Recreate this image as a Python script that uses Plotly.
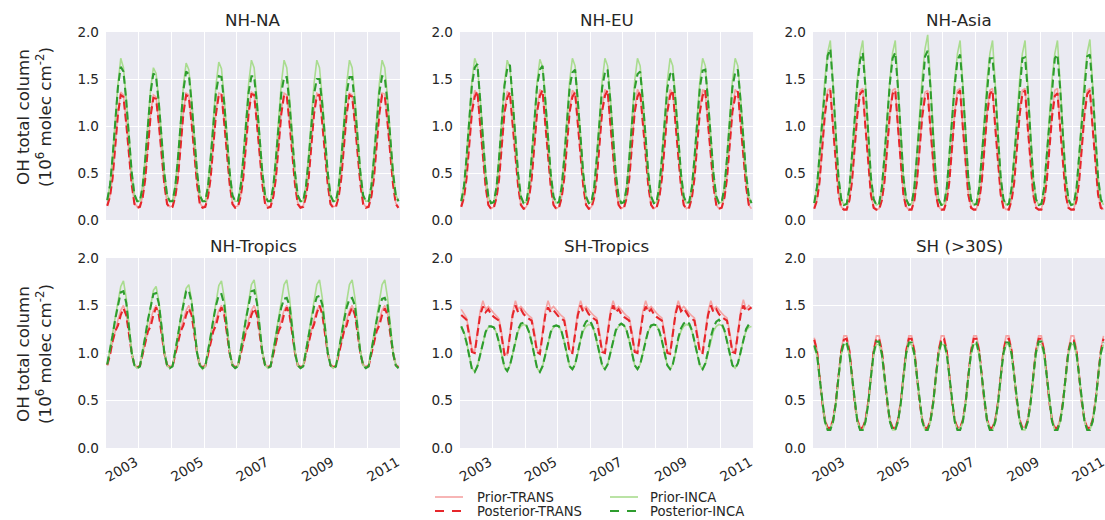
import pandas as pd
import plotly.graph_objects as go

# ---------------- data (monthly, Jan 2002 - Dec 2010) ----------------
months = pd.date_range("2002-01-01", periods=108, freq="MS") + pd.Timedelta(days=14)

regions = ["NH-NA", "NH-EU", "NH-Asia", "NH-Tropics", "SH-Tropics", "SH (>30S)"]
series_names = ["Prior-TRANS", "Posterior-TRANS", "Prior-INCA", "Posterior-INCA"]
year_ticks = ["2003-01-01", "2005-01-01", "2007-01-01", "2009-01-01", "2011-01-01"]
year_labels = ["2003", "2005", "2007", "2009", "2011"]
y_ticks = [0.0, 0.5, 1.0, 1.5, 2.0]
y_labels = ["0.0", "0.5", "1.0", "1.5", "2.0"]

# NH-NA
na_prior_trans = [
    .16, .26, .46, .83, 1.16, 1.36, 1.33, 1.05, .70, .40, .18, .14,
    .15, .25, .45, .82, 1.14, 1.33, 1.31, 1.04, .69, .39, .18, .14,
    .15, .26, .46, .83, 1.16, 1.35, 1.33, 1.05, .70, .40, .18, .14,
    .15, .26, .46, .83, 1.16, 1.35, 1.34, 1.05, .70, .40, .18, .14,
    .15, .26, .46, .84, 1.17, 1.36, 1.34, 1.05, .70, .40, .18, .14,
    .15, .26, .46, .83, 1.16, 1.35, 1.33, 1.05, .70, .40, .18, .14,
    .15, .26, .46, .83, 1.16, 1.35, 1.33, 1.05, .70, .40, .18, .14,
    .15, .26, .46, .83, 1.16, 1.35, 1.33, 1.05, .70, .40, .18, .14,
    .15, .26, .46, .83, 1.16, 1.35, 1.34, 1.05, .70, .40, .18, .14]
na_post_trans = [
    .15, .25, .44, .80, 1.13, 1.33, 1.31, 1.03, .68, .38, .17, .13,
    .14, .24, .43, .79, 1.11, 1.30, 1.29, 1.02, .67, .38, .17, .13,
    .14, .25, .44, .80, 1.13, 1.33, 1.31, 1.03, .68, .38, .17, .13,
    .14, .25, .44, .80, 1.13, 1.33, 1.34, 1.03, .68, .38, .17, .13,
    .14, .25, .44, .80, 1.14, 1.34, 1.33, 1.03, .68, .38, .17, .13,
    .14, .25, .44, .80, 1.13, 1.33, 1.32, 1.03, .68, .38, .17, .13,
    .14, .25, .44, .80, 1.13, 1.32, 1.33, 1.03, .68, .38, .17, .13,
    .14, .25, .44, .80, 1.13, 1.33, 1.31, 1.03, .68, .38, .17, .13,
    .14, .25, .44, .80, 1.13, 1.33, 1.32, 1.03, .68, .38, .17, .13]
na_prior_inca = [
    .21, .38, .68, 1.08, 1.45, 1.72, 1.62, 1.30, .92, .52, .27, .20,
    .20, .37, .66, 1.05, 1.40, 1.62, 1.56, 1.27, .90, .51, .27, .20,
    .20, .37, .67, 1.07, 1.43, 1.67, 1.60, 1.29, .91, .52, .27, .20,
    .20, .38, .68, 1.07, 1.44, 1.68, 1.61, 1.29, .91, .52, .27, .20,
    .20, .38, .68, 1.08, 1.45, 1.70, 1.62, 1.30, .92, .52, .27, .20,
    .20, .38, .68, 1.08, 1.45, 1.70, 1.62, 1.30, .92, .52, .27, .20,
    .20, .38, .68, 1.08, 1.45, 1.70, 1.62, 1.30, .92, .52, .27, .20,
    .20, .38, .68, 1.08, 1.45, 1.70, 1.62, 1.30, .92, .52, .27, .20,
    .20, .38, .68, 1.08, 1.45, 1.70, 1.62, 1.30, .92, .52, .27, .20]
na_post_inca = [
    .21, .37, .66, 1.05, 1.42, 1.63, 1.58, 1.27, .90, .51, .27, .20,
    .20, .36, .64, 1.02, 1.36, 1.56, 1.52, 1.24, .88, .50, .26, .20,
    .20, .36, .65, 1.03, 1.38, 1.58, 1.55, 1.25, .89, .51, .26, .20,
    .20, .36, .64, 1.02, 1.36, 1.53, 1.52, 1.24, .88, .50, .26, .20,
    .20, .36, .64, 1.02, 1.36, 1.53, 1.53, 1.24, .88, .50, .26, .20,
    .20, .36, .64, 1.02, 1.35, 1.52, 1.52, 1.23, .88, .50, .26, .20,
    .20, .36, .64, 1.01, 1.34, 1.50, 1.50, 1.23, .88, .50, .26, .20,
    .20, .36, .64, 1.02, 1.35, 1.52, 1.52, 1.23, .88, .50, .26, .20,
    .20, .36, .64, 1.02, 1.36, 1.53, 1.52, 1.24, .88, .50, .26, .20]

# NH-EU
eu_prior_trans = [
    .15, .25, .46, .84, 1.18, 1.38, 1.34, 1.04, .68, .37, .16, .12,
    .14, .25, .45, .83, 1.17, 1.37, 1.33, 1.03, .67, .37, .16, .12,
    .14, .25, .46, .84, 1.18, 1.39, 1.34, 1.04, .68, .37, .16, .12,
    .14, .25, .46, .84, 1.18, 1.38, 1.35, 1.04, .68, .37, .16, .12,
    .14, .25, .46, .84, 1.19, 1.39, 1.35, 1.04, .68, .37, .16, .12,
    .14, .25, .46, .84, 1.18, 1.39, 1.34, 1.04, .68, .37, .16, .12,
    .14, .25, .46, .84, 1.18, 1.39, 1.35, 1.04, .68, .37, .16, .12,
    .14, .25, .46, .84, 1.18, 1.39, 1.34, 1.04, .68, .37, .16, .12,
    .14, .25, .46, .84, 1.18, 1.39, 1.35, 1.04, .68, .37, .16, .12]
eu_post_trans = [
    .14, .24, .44, .81, 1.15, 1.31, 1.37, 1.02, .66, .36, .16, .12,
    .13, .24, .43, .80, 1.14, 1.30, 1.36, 1.01, .65, .36, .16, .12,
    .13, .24, .44, .81, 1.15, 1.32, 1.38, 1.02, .66, .36, .16, .12,
    .13, .24, .44, .81, 1.15, 1.31, 1.36, 1.02, .66, .36, .16, .12,
    .13, .24, .44, .81, 1.16, 1.32, 1.38, 1.02, .66, .36, .16, .12,
    .13, .24, .44, .81, 1.15, 1.31, 1.37, 1.02, .66, .36, .16, .12,
    .13, .24, .44, .81, 1.15, 1.32, 1.38, 1.02, .66, .36, .16, .12,
    .13, .24, .44, .81, 1.15, 1.32, 1.38, 1.02, .66, .36, .16, .12,
    .13, .24, .44, .81, 1.15, 1.31, 1.37, 1.02, .66, .36, .16, .12]
eu_prior_inca = [
    .20, .37, .68, 1.10, 1.48, 1.72, 1.64, 1.30, .90, .50, .25, .18,
    .19, .36, .67, 1.09, 1.46, 1.70, 1.62, 1.29, .89, .50, .25, .18,
    .19, .37, .68, 1.10, 1.47, 1.71, 1.63, 1.30, .90, .50, .25, .18,
    .19, .37, .68, 1.10, 1.48, 1.72, 1.64, 1.30, .90, .50, .25, .18,
    .19, .37, .68, 1.10, 1.48, 1.72, 1.64, 1.30, .90, .50, .25, .18,
    .19, .37, .68, 1.10, 1.48, 1.72, 1.64, 1.30, .90, .50, .25, .18,
    .19, .37, .68, 1.10, 1.48, 1.72, 1.64, 1.30, .90, .50, .25, .18,
    .19, .37, .68, 1.10, 1.48, 1.72, 1.64, 1.30, .90, .50, .25, .18,
    .19, .37, .68, 1.10, 1.48, 1.72, 1.64, 1.30, .90, .50, .25, .18]
eu_post_inca = [
    .20, .36, .66, 1.07, 1.44, 1.62, 1.66, 1.28, .88, .49, .25, .18,
    .19, .35, .65, 1.06, 1.43, 1.61, 1.65, 1.27, .87, .49, .25, .18,
    .19, .36, .66, 1.06, 1.43, 1.60, 1.64, 1.27, .88, .49, .25, .18,
    .19, .35, .65, 1.05, 1.41, 1.57, 1.60, 1.26, .87, .49, .25, .18,
    .19, .35, .65, 1.05, 1.41, 1.57, 1.60, 1.26, .87, .49, .25, .18,
    .19, .35, .65, 1.05, 1.40, 1.55, 1.58, 1.26, .87, .49, .25, .18,
    .19, .35, .65, 1.05, 1.40, 1.55, 1.58, 1.26, .87, .49, .25, .18,
    .19, .35, .65, 1.05, 1.41, 1.59, 1.60, 1.26, .87, .49, .25, .18,
    .19, .35, .65, 1.05, 1.41, 1.57, 1.60, 1.26, .87, .49, .25, .18]

# NH-Asia
as_prior_trans = [
    .13, .22, .42, .80, 1.15, 1.38, 1.40, 1.00, .60, .28, .14, .11,
    .12, .22, .42, .80, 1.15, 1.38, 1.40, 1.00, .60, .28, .14, .11,
    .12, .22, .42, .80, 1.15, 1.38, 1.40, 1.00, .60, .28, .14, .11,
    .12, .22, .42, .80, 1.14, 1.36, 1.38, 1.00, .60, .28, .14, .11,
    .12, .22, .42, .80, 1.15, 1.38, 1.40, 1.00, .60, .28, .14, .11,
    .12, .22, .42, .80, 1.15, 1.38, 1.40, 1.00, .60, .28, .14, .11,
    .12, .22, .42, .80, 1.15, 1.38, 1.40, 1.00, .60, .28, .14, .11,
    .12, .22, .42, .80, 1.15, 1.38, 1.40, 1.00, .60, .28, .14, .11,
    .12, .22, .42, .80, 1.15, 1.38, 1.40, 1.00, .60, .28, .14, .11]
as_post_trans = [
    .12, .21, .40, .78, 1.12, 1.34, 1.38, .98, .58, .27, .13, .11,
    .11, .21, .40, .78, 1.12, 1.34, 1.38, .98, .58, .27, .13, .11,
    .11, .21, .40, .78, 1.12, 1.34, 1.38, .98, .58, .27, .13, .11,
    .11, .21, .40, .77, 1.10, 1.31, 1.35, .97, .58, .27, .13, .11,
    .11, .21, .40, .78, 1.12, 1.34, 1.38, .98, .58, .27, .13, .11,
    .11, .21, .40, .78, 1.12, 1.34, 1.38, .98, .58, .27, .13, .11,
    .11, .21, .40, .78, 1.12, 1.34, 1.38, .98, .58, .27, .13, .11,
    .11, .21, .40, .77, 1.10, 1.32, 1.35, .97, .58, .27, .13, .11,
    .11, .21, .40, .78, 1.12, 1.34, 1.38, .98, .58, .27, .13, .11]
as_prior_inca = [
    .18, .36, .70, 1.10, 1.50, 1.78, 1.91, 1.45, .92, .46, .22, .16,
    .17, .35, .69, 1.09, 1.49, 1.77, 1.91, 1.44, .92, .46, .22, .16,
    .17, .35, .69, 1.09, 1.49, 1.78, 1.91, 1.44, .92, .46, .22, .16,
    .17, .36, .70, 1.11, 1.53, 1.82, 1.97, 1.47, .93, .46, .22, .16,
    .17, .35, .69, 1.09, 1.49, 1.77, 1.91, 1.44, .92, .46, .22, .16,
    .17, .35, .69, 1.09, 1.49, 1.77, 1.91, 1.44, .92, .46, .22, .16,
    .17, .35, .69, 1.09, 1.49, 1.77, 1.91, 1.44, .92, .46, .22, .16,
    .17, .35, .69, 1.09, 1.49, 1.77, 1.91, 1.44, .92, .46, .22, .16,
    .17, .35, .69, 1.09, 1.50, 1.78, 1.92, 1.44, .92, .46, .22, .16]
as_post_inca = [
    .18, .35, .68, 1.07, 1.46, 1.75, 1.82, 1.42, .90, .45, .22, .16,
    .17, .34, .67, 1.06, 1.44, 1.70, 1.78, 1.40, .89, .45, .22, .16,
    .17, .34, .67, 1.06, 1.45, 1.72, 1.78, 1.40, .89, .45, .22, .16,
    .17, .34, .67, 1.06, 1.45, 1.74, 1.80, 1.41, .89, .45, .22, .16,
    .17, .34, .67, 1.05, 1.43, 1.70, 1.76, 1.39, .89, .45, .22, .16,
    .17, .34, .66, 1.04, 1.42, 1.72, 1.72, 1.38, .88, .45, .22, .16,
    .17, .34, .66, 1.04, 1.42, 1.72, 1.73, 1.38, .88, .45, .22, .16,
    .17, .34, .67, 1.05, 1.43, 1.72, 1.76, 1.39, .89, .45, .22, .16,
    .17, .34, .67, 1.05, 1.44, 1.74, 1.76, 1.39, .89, .45, .22, .16]

# NH-Tropics
tr_prior_trans = [
    .88, 1.00, 1.13, 1.25, 1.35, 1.45, 1.50, 1.42, 1.22, 1.02, .88, .85,
    .87, 1.00, 1.13, 1.25, 1.35, 1.45, 1.50, 1.42, 1.22, 1.02, .88, .86,
    .87, 1.00, 1.13, 1.25, 1.35, 1.45, 1.50, 1.42, 1.22, 1.02, .88, .86,
    .87, 1.00, 1.13, 1.25, 1.35, 1.45, 1.50, 1.42, 1.22, 1.02, .88, .86,
    .87, 1.00, 1.13, 1.25, 1.35, 1.45, 1.50, 1.42, 1.22, 1.02, .88, .86,
    .87, 1.00, 1.13, 1.25, 1.35, 1.45, 1.50, 1.42, 1.22, 1.02, .88, .86,
    .87, 1.00, 1.13, 1.25, 1.35, 1.45, 1.50, 1.42, 1.22, 1.02, .88, .86,
    .87, 1.00, 1.13, 1.25, 1.35, 1.45, 1.50, 1.42, 1.22, 1.02, .88, .86,
    .87, 1.00, 1.13, 1.25, 1.35, 1.45, 1.50, 1.42, 1.22, 1.02, .88, .86]
tr_post_trans = [
    .87, .98, 1.12, 1.23, 1.29, 1.40, 1.47, 1.40, 1.20, 1.00, .87, .85,
    .86, .98, 1.12, 1.23, 1.28, 1.40, 1.48, 1.40, 1.20, 1.00, .87, .85,
    .86, .98, 1.12, 1.23, 1.29, 1.40, 1.47, 1.40, 1.20, 1.00, .87, .85,
    .86, .98, 1.12, 1.23, 1.29, 1.41, 1.48, 1.40, 1.20, 1.00, .87, .85,
    .86, .98, 1.12, 1.23, 1.29, 1.40, 1.47, 1.40, 1.20, 1.00, .87, .85,
    .86, .98, 1.12, 1.23, 1.29, 1.41, 1.48, 1.40, 1.20, 1.00, .87, .85,
    .86, .98, 1.12, 1.23, 1.30, 1.42, 1.50, 1.41, 1.20, 1.00, .87, .85,
    .86, .98, 1.12, 1.23, 1.29, 1.41, 1.48, 1.40, 1.20, 1.00, .87, .85,
    .86, .98, 1.12, 1.23, 1.29, 1.40, 1.47, 1.40, 1.20, 1.00, .87, .85]
tr_prior_inca = [
    .88, 1.03, 1.20, 1.38, 1.55, 1.70, 1.76, 1.58, 1.30, 1.02, .87, .84,
    .86, 1.02, 1.19, 1.36, 1.52, 1.66, 1.70, 1.55, 1.29, 1.02, .87, .84,
    .86, 1.02, 1.19, 1.37, 1.53, 1.68, 1.72, 1.56, 1.29, 1.02, .87, .83,
    .86, 1.03, 1.20, 1.38, 1.55, 1.71, 1.76, 1.58, 1.30, 1.02, .87, .84,
    .86, 1.03, 1.20, 1.38, 1.56, 1.72, 1.77, 1.58, 1.30, 1.02, .87, .84,
    .86, 1.03, 1.20, 1.38, 1.56, 1.72, 1.77, 1.58, 1.30, 1.02, .87, .84,
    .86, 1.03, 1.20, 1.38, 1.56, 1.72, 1.77, 1.58, 1.30, 1.02, .87, .84,
    .86, 1.03, 1.20, 1.38, 1.56, 1.72, 1.77, 1.58, 1.30, 1.02, .87, .84,
    .86, 1.03, 1.20, 1.38, 1.56, 1.72, 1.77, 1.58, 1.30, 1.02, .87, .84]
tr_post_inca = [
    .88, 1.02, 1.18, 1.36, 1.52, 1.64, 1.65, 1.53, 1.27, 1.00, .87, .84,
    .86, 1.01, 1.17, 1.35, 1.50, 1.62, 1.63, 1.52, 1.27, 1.00, .87, .84,
    .86, 1.01, 1.18, 1.36, 1.52, 1.65, 1.66, 1.53, 1.27, 1.00, .87, .84,
    .86, 1.01, 1.17, 1.35, 1.50, 1.61, 1.62, 1.51, 1.27, 1.00, .87, .84,
    .86, 1.01, 1.18, 1.36, 1.52, 1.65, 1.66, 1.53, 1.27, 1.00, .87, .84,
    .86, 1.01, 1.17, 1.34, 1.48, 1.57, 1.58, 1.50, 1.26, 1.00, .87, .84,
    .86, 1.01, 1.17, 1.34, 1.49, 1.59, 1.60, 1.51, 1.26, 1.00, .87, .84,
    .86, 1.01, 1.17, 1.34, 1.48, 1.57, 1.58, 1.50, 1.26, 1.00, .87, .84,
    .86, 1.01, 1.17, 1.34, 1.48, 1.57, 1.58, 1.50, 1.26, 1.00, .87, .84]

# SH-Tropics
st_prior_trans = [
    1.46, 1.41, 1.37, 1.22, 1.04, 1.02, 1.22, 1.44, 1.55, 1.46, 1.49, 1.45,
    1.42, 1.39, 1.36, 1.20, 1.00, .98, 1.20, 1.43, 1.55, 1.46, 1.49, 1.45,
    1.42, 1.39, 1.37, 1.22, 1.03, 1.01, 1.22, 1.44, 1.55, 1.46, 1.49, 1.45,
    1.42, 1.39, 1.37, 1.22, 1.03, 1.01, 1.22, 1.44, 1.55, 1.46, 1.49, 1.45,
    1.42, 1.39, 1.37, 1.22, 1.03, 1.01, 1.22, 1.44, 1.55, 1.46, 1.49, 1.45,
    1.42, 1.39, 1.37, 1.22, 1.03, 1.01, 1.22, 1.44, 1.55, 1.46, 1.49, 1.45,
    1.42, 1.39, 1.37, 1.21, 1.02, 1.00, 1.22, 1.44, 1.55, 1.46, 1.49, 1.45,
    1.42, 1.39, 1.37, 1.22, 1.03, 1.01, 1.22, 1.44, 1.55, 1.46, 1.49, 1.45,
    1.42, 1.39, 1.37, 1.22, 1.03, 1.01, 1.22, 1.44, 1.56, 1.46, 1.50, 1.47]
st_post_trans = [
    1.40, 1.37, 1.35, 1.18, 1.01, 1.00, 1.18, 1.40, 1.49, 1.43, 1.46, 1.41,
    1.38, 1.36, 1.34, 1.16, .98, .97, 1.17, 1.40, 1.50, 1.43, 1.46, 1.41,
    1.38, 1.36, 1.34, 1.18, 1.01, .99, 1.18, 1.40, 1.48, 1.43, 1.45, 1.41,
    1.38, 1.36, 1.34, 1.18, 1.01, 1.00, 1.18, 1.40, 1.50, 1.43, 1.46, 1.41,
    1.38, 1.36, 1.34, 1.18, 1.01, 1.00, 1.18, 1.40, 1.50, 1.43, 1.46, 1.41,
    1.38, 1.36, 1.34, 1.18, 1.01, 1.00, 1.18, 1.40, 1.49, 1.43, 1.46, 1.41,
    1.38, 1.36, 1.34, 1.17, 1.00, .99, 1.18, 1.41, 1.52, 1.44, 1.47, 1.42,
    1.38, 1.36, 1.34, 1.18, 1.01, 1.00, 1.18, 1.40, 1.50, 1.43, 1.46, 1.41,
    1.38, 1.36, 1.34, 1.18, 1.01, 1.00, 1.18, 1.40, 1.50, 1.44, 1.46, 1.48]
st_prior_inca = [
    1.28, 1.22, 1.12, .97, .84, .80, .86, .98, 1.12, 1.22, 1.27, 1.28,
    1.27, 1.21, 1.11, .97, .85, .81, .87, .99, 1.13, 1.23, 1.28, 1.30,
    1.29, 1.22, 1.11, .97, .84, .80, .86, .98, 1.12, 1.22, 1.27, 1.29,
    1.28, 1.22, 1.12, .98, .86, .83, .88, 1.00, 1.14, 1.23, 1.28, 1.30,
    1.29, 1.23, 1.13, .99, .87, .83, .88, 1.00, 1.14, 1.23, 1.28, 1.30,
    1.29, 1.23, 1.13, .99, .87, .83, .88, 1.00, 1.14, 1.23, 1.28, 1.30,
    1.29, 1.23, 1.13, .99, .87, .83, .88, 1.00, 1.14, 1.23, 1.28, 1.30,
    1.29, 1.23, 1.13, .99, .87, .83, .88, 1.00, 1.14, 1.23, 1.28, 1.30,
    1.29, 1.23, 1.13, .99, .87, .84, .89, 1.00, 1.14, 1.23, 1.27, 1.28]
st_post_inca = [
    1.28, 1.21, 1.11, .96, .83, .80, .86, .98, 1.12, 1.22, 1.28, 1.28,
    1.27, 1.21, 1.11, .97, .85, .81, .87, .99, 1.14, 1.25, 1.31, 1.32,
    1.29, 1.22, 1.11, .97, .84, .80, .86, .98, 1.12, 1.22, 1.28, 1.29,
    1.28, 1.22, 1.12, .98, .86, .83, .88, 1.01, 1.16, 1.27, 1.33, 1.35,
    1.31, 1.24, 1.13, .99, .87, .83, .88, 1.00, 1.14, 1.24, 1.29, 1.31,
    1.29, 1.23, 1.13, .99, .87, .83, .88, 1.00, 1.14, 1.24, 1.29, 1.30,
    1.29, 1.23, 1.13, .99, .87, .83, .88, 1.01, 1.16, 1.26, 1.31, 1.33,
    1.31, 1.24, 1.13, .99, .87, .83, .89, 1.02, 1.17, 1.27, 1.33, 1.35,
    1.31, 1.24, 1.13, .99, .87, .84, .89, 1.01, 1.15, 1.25, 1.30, 1.32]

# SH (>30S)
sh_prior_trans = [
    1.16, 1.04, .78, .50, .31, .22, .22, .31, .50, .78, 1.04, 1.18,
    1.18, 1.04, .78, .50, .31, .22, .22, .31, .50, .78, 1.04, 1.18,
    1.18, 1.04, .78, .50, .31, .22, .22, .31, .50, .78, 1.04, 1.18,
    1.18, 1.04, .78, .50, .31, .22, .22, .31, .50, .78, 1.04, 1.18,
    1.18, 1.04, .78, .50, .31, .22, .22, .31, .50, .78, 1.04, 1.18,
    1.18, 1.04, .78, .50, .31, .22, .22, .31, .50, .78, 1.04, 1.18,
    1.18, 1.04, .78, .50, .31, .22, .22, .31, .50, .78, 1.04, 1.18,
    1.18, 1.04, .78, .50, .31, .22, .22, .31, .50, .78, 1.04, 1.18,
    1.18, 1.04, .78, .50, .31, .22, .22, .31, .50, .78, 1.04, 1.18]
sh_post_trans = [
    1.14, 1.02, .76, .48, .29, .21, .21, .29, .48, .76, 1.02, 1.14,
    1.15, 1.02, .76, .48, .29, .21, .21, .29, .48, .76, 1.02, 1.15,
    1.15, 1.02, .76, .48, .29, .21, .21, .29, .48, .76, 1.02, 1.15,
    1.15, 1.02, .76, .48, .29, .21, .21, .29, .48, .76, 1.02, 1.15,
    1.15, 1.02, .76, .48, .29, .21, .21, .29, .48, .76, 1.02, 1.15,
    1.15, 1.02, .76, .48, .29, .21, .21, .29, .48, .76, 1.02, 1.15,
    1.15, 1.02, .76, .48, .29, .21, .21, .29, .48, .76, 1.02, 1.15,
    1.15, 1.02, .76, .48, .29, .21, .21, .29, .48, .76, 1.02, 1.13,
    1.13, 1.01, .76, .48, .29, .21, .21, .29, .48, .76, 1.02, 1.15]
sh_prior_inca = [
    1.06, .97, .74, .47, .28, .19, .19, .27, .46, .73, .98, 1.09,
    1.09, .97, .74, .47, .28, .19, .19, .27, .46, .73, .98, 1.09,
    1.09, .97, .74, .47, .28, .19, .19, .27, .46, .73, .98, 1.09,
    1.09, .97, .74, .47, .28, .19, .19, .27, .46, .73, .98, 1.09,
    1.09, .97, .74, .47, .28, .19, .19, .27, .46, .73, .98, 1.09,
    1.09, .97, .74, .47, .28, .19, .19, .27, .46, .73, .98, 1.09,
    1.09, .97, .74, .47, .28, .19, .19, .27, .46, .73, .98, 1.09,
    1.09, .97, .74, .47, .28, .19, .19, .27, .46, .73, .98, 1.09,
    1.09, .97, .74, .47, .28, .19, .19, .27, .46, .73, .98, 1.09]
sh_post_inca = [
    1.08, .99, .75, .48, .28, .19, .19, .28, .47, .75, 1.00, 1.11,
    1.11, .99, .75, .48, .28, .19, .19, .28, .47, .75, 1.00, 1.12,
    1.12, .99, .75, .48, .28, .19, .19, .28, .47, .75, 1.00, 1.11,
    1.11, .99, .75, .48, .28, .19, .19, .28, .47, .75, 1.00, 1.11,
    1.11, .99, .75, .48, .28, .19, .19, .28, .47, .75, 1.00, 1.11,
    1.11, .99, .75, .48, .28, .19, .19, .28, .47, .75, 1.00, 1.11,
    1.11, .99, .75, .48, .28, .19, .19, .28, .47, .75, 1.01, 1.12,
    1.12, 1.00, .75, .48, .28, .19, .19, .28, .47, .75, 1.01, 1.12,
    1.12, .99, .75, .48, .28, .19, .19, .28, .47, .75, 1.00, 1.11]

panel_data = {
    "NH-NA": [na_prior_trans, na_post_trans, na_prior_inca, na_post_inca],
    "NH-EU": [eu_prior_trans, eu_post_trans, eu_prior_inca, eu_post_inca],
    "NH-Asia": [as_prior_trans, as_post_trans, as_prior_inca, as_post_inca],
    "NH-Tropics": [tr_prior_trans, tr_post_trans, tr_prior_inca, tr_post_inca],
    "SH-Tropics": [st_prior_trans, st_post_trans, st_prior_inca, st_post_inca],
    "SH (>30S)": [sh_prior_trans, sh_post_trans, sh_prior_inca, sh_post_inca],
}

# ---------------- style ----------------
W, H = 1105, 520
FONT = "DejaVu Sans"
TXT = "#262626"
BG = "#eaeaf2"
DASH_PLOT = "8px,4px"
DASH_LEG = "9px,8px"
styles = {
    "Prior-TRANS": dict(color="#f5a3a3", width=1.6, dash="solid"),
    "Posterior-TRANS": dict(color="#e6262b", width=2.1, dash=DASH_PLOT),
    "Prior-INCA": dict(color="#a9dc8f", width=1.6, dash="solid"),
    "Posterior-INCA": dict(color="#2e9d2e", width=2.1, dash=DASH_PLOT),
}

col_px = [(106, 400), (460, 753), (813, 1105)]
row_px = [(32, 220), (258, 448)]  # top, bottom in pixels from top

fig = go.Figure()
layout = dict(
    width=W, height=H, margin=dict(l=0, r=0, t=0, b=0, pad=0, autoexpand=False),
    paper_bgcolor="white", plot_bgcolor=BG, showlegend=False,
    font=dict(family=FONT, color=TXT),
)
annotations = []
shapes = []

for i, region in enumerate(regions):
    r, c = divmod(i, 3)
    ax = "" if i == 0 else str(i + 1)
    x0, x1 = col_px[c]
    top, bot = row_px[r]
    xd = [x0 / W, min(x1 / W, 1.0)]
    yd = [1 - bot / H, 1 - top / H]
    for name, vals in zip(series_names, panel_data[region]):
        st = styles[name]
        fig.add_trace(go.Scatter(
            x=months, y=vals, mode="lines", name=name,
            line=dict(color=st["color"], width=st["width"], dash=st["dash"]),
            xaxis="x" + ax, yaxis="y" + ax, showlegend=False,
        ))
    layout["xaxis" + ax] = dict(
        domain=xd, anchor="y" + ax, type="date", automargin=False,
        range=["2002-01-01", "2011-01-01"],
        tickmode="array", tickvals=year_ticks, ticktext=year_labels,
        showticklabels=(r == 1), tickangle=-30, ticklabeloverflow="allow",
        tickfont=dict(size=13.6, color=TXT, family=FONT),
        ticks="", ticklabelstandoff=3, ticklabelshift=-3,
        showgrid=True, gridcolor="white", gridwidth=1.3,
        minor=dict(tick0="2002-01-01", dtick="M12", showgrid=True,
                   gridcolor="white", gridwidth=1.3, ticks=""),
        zeroline=False, showline=False,
    )
    layout["yaxis" + ax] = dict(
        domain=yd, anchor="x" + ax, range=[0, 2.0], automargin=False,
        tickmode="array", tickvals=y_ticks, ticktext=y_labels,
        tickfont=dict(size=13.6, color=TXT, family=FONT),
        ticks="", ticklabelstandoff=6,
        showgrid=True, gridcolor="white", gridwidth=1.3,
        zeroline=False, showline=False,
    )
    annotations.append(dict(
        text=region, xref="paper", yref="paper",
        x=(x0 + x1) / 2 / W, y=1 - (top - 12) / H,
        xanchor="center", yanchor="middle", showarrow=False,
        font=dict(size=16.7, color=TXT, family=FONT),
    ))

# y-axis labels (left column)
for yc in (117, 354):
    annotations.append(dict(
        text="OH total column<br>(10<sup>6</sup> molec cm<sup>-2</sup>)",
        xref="paper", yref="paper", x=34 / W, y=1 - yc / H,
        xanchor="center", yanchor="middle", showarrow=False, textangle=-90,
        font=dict(size=16.7, color=TXT, family=FONT),
    ))

# legend (two columns)
leg_cols = [(435, 475, ["Prior-TRANS", "Posterior-TRANS"]),
            (610, 648, ["Prior-INCA", "Posterior-INCA"])]
leg_rows = [497, 511]
for lx, tx, names in leg_cols:
    for name, ly in zip(names, leg_rows):
        st = styles[name]
        shapes.append(dict(
            type="line", xref="paper", yref="paper",
            x0=lx / W, x1=(lx + 28) / W, y0=1 - ly / H, y1=1 - ly / H,
            line=dict(color=st["color"], width=st["width"],
                      dash="solid" if st["dash"] == "solid" else DASH_LEG),
        ))
        annotations.append(dict(
            text=name, xref="paper", yref="paper", x=tx / W, y=1 - ly / H,
            xanchor="left", yanchor="middle", showarrow=False,
            font=dict(size=13.2, color=TXT, family=FONT),
        ))

layout["annotations"] = annotations
layout["shapes"] = shapes
fig.update_layout(**layout)
fig.write_html("out.html", config={"displayModeBar": False},
               post_script="document.body.style.margin='0';")
